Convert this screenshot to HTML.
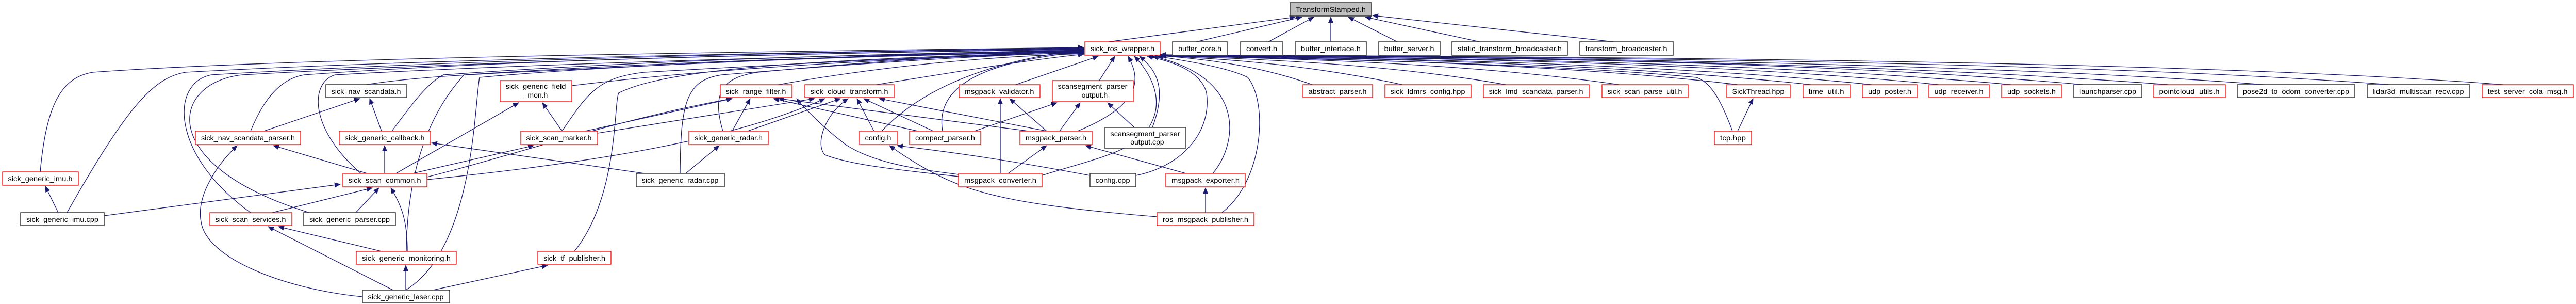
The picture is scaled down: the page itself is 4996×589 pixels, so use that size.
<!DOCTYPE html>
<html><head><meta charset="utf-8"><style>
html,body{margin:0;padding:0;background:#fff;}
svg{display:block;}
text{font-family:"Liberation Sans",sans-serif;font-size:14px;fill:#000;}
.r{fill:#fff;stroke:#ff0000;stroke-width:1.3;}
.b{fill:#fff;stroke:#404040;stroke-width:1.6;}
.g{fill:#bfbfbf;stroke:#404040;stroke-width:1.6;}
.e{fill:none;stroke:#191970;stroke-width:1.3;}
</style></head><body>
<svg width="4996" height="589" viewBox="0 0 4996 589" xmlns="http://www.w3.org/2000/svg">
<defs><marker id="a" markerWidth="12" markerHeight="10" refX="11" refY="5" orient="auto" markerUnits="userSpaceOnUse"><path d="M0,0 L12,5 L0,10 z" fill="#191970"/></marker></defs>
<g class="e" marker-end="url(#a)">
<path d="M2150,81 L2512,33"/>
<path d="M2320,81 L2525,33"/>
<path d="M2460,81 L2548,33"/>
<path d="M2581,81 L2581,33"/>
<path d="M2710,81 L2615,33"/>
<path d="M2870,81 L2648,33"/>
<path d="M3130,81 L2662,30"/>
<path d="M78,333 C90,200 120,150 180,140 C600,110 1500,100 2102,92"/>
<path d="M130,412 C250,200 300,150 360,140 C800,115 1600,100 2102,93"/>
<path d="M486,412 C330,300 330,160 410,145 C900,115 1600,100 2102,94"/>
<path d="M600,412 C300,320 330,160 470,145 C900,120 1600,102 2102,95"/>
<path d="M486,254 C520,170 560,150 590,145 C1000,115 1600,102 2102,96"/>
<path d="M710,164 C800,150 900,145 1000,140 C1500,115 1800,102 2102,97"/>
<path d="M760,254 C800,200 830,160 860,145 C1200,120 1700,103 2102,98"/>
<path d="M700,336 C600,250 600,160 650,145 C1000,125 1700,104 2102,99"/>
<path d="M788,487 C790,300 850,200 900,145 C1200,125 1700,105 2102,100"/>
<path d="M787,562 C920,480 920,200 930,150 C1200,125 1700,106 2102,101"/>
<path d="M1109,166 C1400,130 1800,110 2102,102"/>
<path d="M1090,254 C1140,180 1160,150 1250,140 C1600,120 1900,105 2102,103"/>
<path d="M1114,487 C1200,380 1190,200 1200,180 C1300,130 1600,115 2102,100"/>
<path d="M1319,336 C1320,200 1330,155 1400,145 C1700,120 1900,108 2102,101"/>
<path d="M1402,254 C1380,180 1400,150 1470,140 C1700,118 1900,105 2102,100"/>
<path d="M1510,164 C1700,130 1900,110 2102,104"/>
<path d="M1700,164 C1850,140 2000,115 2102,105"/>
<path d="M1710,254 C1780,180 1900,120 2102,96"/>
<path d="M1828,254 C1810,150 1950,115 2102,100"/>
<path d="M1970,164 L2130,109"/>
<path d="M2132,156 L2162,109"/>
<path d="M2090,254 C2220,200 2210,150 2188,109"/>
<path d="M2020,340 C2150,300 2220,290 2240,220 C2250,180 2230,140 2200,109"/>
<path d="M2235,247 C2260,180 2250,140 2210,109"/>
<path d="M2203,340 C2300,320 2350,250 2340,180 C2330,140 2280,120 2225,109"/>
<path d="M2352,336 C2400,280 2420,150 2235,109"/>
<path d="M2370,412 C2450,350 2460,200 2420,150 C2380,130 2300,118 2245,109"/>
<path d="M2545,164 C2450,130 2350,115 2250,108"/>
<path d="M2720,164 C2550,128 2400,115 2250,108"/>
<path d="M2920,164 C2700,125 2450,114 2250,108"/>
<path d="M3140,164 C2850,122 2500,113 2250,108"/>
<path d="M3360,254 C3340,200 3320,160 3290,150 C3000,122 2500,113 2250,108"/>
<path d="M3370,164 C3000,120 2500,112 2250,107"/>
<path d="M3512,164 C3100,120 2600,112 2250,107"/>
<path d="M3630,164 C3200,120 2600,111 2250,107"/>
<path d="M3760,164 C3300,118 2700,111 2250,107"/>
<path d="M3900,164 C3400,118 2700,110 2250,107"/>
<path d="M4040,164 C3500,116 2800,110 2250,106"/>
<path d="M4205,164 C3600,118 2800,110 2250,106"/>
<path d="M4390,164 C3800,118 2800,110 2250,106"/>
<path d="M4635,164 C4000,116 2900,110 2250,106"/>
<path d="M4855,164 C4200,114 3000,110 2250,106"/>
<path d="M512,254 L698,191"/>
<path d="M740,254 L717,191"/>
<path d="M712,336 L530,282"/>
<path d="M746,336 L746,282"/>
<path d="M768,336 L1006,199"/>
<path d="M800,336 L1035,282"/>
<path d="M828,343 C1000,300 1200,230 1420,191"/>
<path d="M828,348 C1100,320 1400,280 1600,191"/>
<path d="M113,412 L88,361"/>
<path d="M202,418 L660,357"/>
<path d="M528,412 L722,364"/>
<path d="M690,412 L735,364"/>
<path d="M790,487 C790,430 780,400 758,364"/>
<path d="M740,487 L540,439"/>
<path d="M762,562 L520,439"/>
<path d="M787,562 L787,514"/>
<path d="M840,562 L1062,514"/>
<path d="M703,575 C550,560 400,500 390,430 C380,380 420,320 460,282"/>
<path d="M1250,336 L837,277"/>
<path d="M1330,336 L1395,282"/>
<path d="M1090,254 L1052,199"/>
<path d="M1135,254 L1420,191"/>
<path d="M1159,258 L1580,191"/>
<path d="M1420,254 L1455,191"/>
<path d="M1450,254 L1630,191"/>
<path d="M1695,254 L1662,191"/>
<path d="M1810,254 L1675,191"/>
<path d="M1780,254 L1500,191"/>
<path d="M1890,254 L2050,199"/>
<path d="M1995,254 L1510,191"/>
<path d="M2030,254 L1705,191"/>
<path d="M2030,254 L1958,191"/>
<path d="M2055,254 L2095,199"/>
<path d="M2200,247 L2148,199"/>
<path d="M1940,336 L1940,191"/>
<path d="M1955,336 L2030,282"/>
<path d="M1859,338 C1800,330 1700,320 1640,280 C1600,250 1560,210 1545,191"/>
<path d="M1859,342 C1750,330 1650,320 1600,300 C1580,280 1600,220 1645,191"/>
<path d="M2114,340 C1900,300 1800,290 1740,282"/>
<path d="M2300,336 L2105,282"/>
<path d="M2338,412 L2338,364"/>
<path d="M2244,420 C2000,400 1900,380 1820,340 C1780,320 1750,300 1725,282"/>
<path d="M3370,254 L3400,191"/>
</g>
<g>
<rect class="g" x="2502" y="5" width="158" height="26"/><text x="2581" y="23" text-anchor="middle" textLength="136" lengthAdjust="spacingAndGlyphs">TransformStamped.h</text>
<rect class="r" x="2104" y="81" width="146" height="26"/><text x="2177" y="99" text-anchor="middle" textLength="124" lengthAdjust="spacingAndGlyphs">sick_ros_wrapper.h</text>
<rect class="b" x="2274" y="81" width="106" height="26"/><text x="2327" y="99" text-anchor="middle" textLength="84" lengthAdjust="spacingAndGlyphs">buffer_core.h</text>
<rect class="b" x="2406" y="81" width="82" height="26"/><text x="2447" y="99" text-anchor="middle" textLength="60" lengthAdjust="spacingAndGlyphs">convert.h</text>
<rect class="b" x="2512" y="81" width="138" height="26"/><text x="2581" y="99" text-anchor="middle" textLength="116" lengthAdjust="spacingAndGlyphs">buffer_interface.h</text>
<rect class="b" x="2674" y="81" width="119" height="26"/><text x="2733" y="99" text-anchor="middle" textLength="97" lengthAdjust="spacingAndGlyphs">buffer_server.h</text>
<rect class="b" x="2816" y="81" width="224" height="26"/><text x="2928" y="99" text-anchor="middle" textLength="202" lengthAdjust="spacingAndGlyphs">static_transform_broadcaster.h</text>
<rect class="b" x="3064" y="81" width="181" height="26"/><text x="3154" y="99" text-anchor="middle" textLength="159" lengthAdjust="spacingAndGlyphs">transform_broadcaster.h</text>

<rect class="b" x="632" y="164" width="157" height="25"/><text x="710" y="182" text-anchor="middle" textLength="135" lengthAdjust="spacingAndGlyphs">sick_nav_scandata.h</text>
<rect class="r" x="970" y="156" width="139" height="41"/><text x="1039" y="172" text-anchor="middle" textLength="117" lengthAdjust="spacingAndGlyphs">sick_generic_field</text><text x="1039" y="189" text-anchor="middle">_mon.h</text>
<rect class="r" x="1397" y="164" width="139" height="25"/><text x="1466" y="182" text-anchor="middle" textLength="117" lengthAdjust="spacingAndGlyphs">sick_range_filter.h</text>
<rect class="r" x="1561" y="164" width="173" height="25"/><text x="1647" y="182" text-anchor="middle" textLength="151" lengthAdjust="spacingAndGlyphs">sick_cloud_transform.h</text>
<rect class="r" x="1860" y="164" width="157" height="25"/><text x="1938" y="182" text-anchor="middle" textLength="135" lengthAdjust="spacingAndGlyphs">msgpack_validator.h</text>
<rect class="r" x="2041" y="156" width="157" height="41"/><text x="2119" y="172" text-anchor="middle" textLength="135" lengthAdjust="spacingAndGlyphs">scansegment_parser</text><text x="2119" y="189" text-anchor="middle">_output.h</text>
<rect class="r" x="2527" y="164" width="135" height="25"/><text x="2594" y="182" text-anchor="middle" textLength="113" lengthAdjust="spacingAndGlyphs">abstract_parser.h</text>
<rect class="r" x="2686" y="164" width="167" height="25"/><text x="2769" y="182" text-anchor="middle" textLength="145" lengthAdjust="spacingAndGlyphs">sick_ldmrs_config.hpp</text>
<rect class="r" x="2877" y="164" width="205" height="25"/><text x="2979" y="182" text-anchor="middle" textLength="183" lengthAdjust="spacingAndGlyphs">sick_lmd_scandata_parser.h</text>
<rect class="r" x="3107" y="164" width="167" height="25"/><text x="3190" y="182" text-anchor="middle" textLength="145" lengthAdjust="spacingAndGlyphs">sick_scan_parse_util.h</text>
<rect class="r" x="3349" y="164" width="123" height="25"/><text x="3410" y="182" text-anchor="middle" textLength="101" lengthAdjust="spacingAndGlyphs">SickThread.hpp</text>
<rect class="r" x="3497" y="164" width="91" height="25"/><text x="3542" y="182" text-anchor="middle" textLength="69" lengthAdjust="spacingAndGlyphs">time_util.h</text>
<rect class="r" x="3612" y="164" width="106" height="25"/><text x="3665" y="182" text-anchor="middle" textLength="84" lengthAdjust="spacingAndGlyphs">udp_poster.h</text>
<rect class="r" x="3741" y="164" width="117" height="25"/><text x="3799" y="182" text-anchor="middle" textLength="95" lengthAdjust="spacingAndGlyphs">udp_receiver.h</text>
<rect class="r" x="3882" y="164" width="116" height="25"/><text x="3940" y="182" text-anchor="middle" textLength="94" lengthAdjust="spacingAndGlyphs">udp_sockets.h</text>
<rect class="b" x="4022" y="164" width="132" height="25"/><text x="4088" y="182" text-anchor="middle" textLength="110" lengthAdjust="spacingAndGlyphs">launchparser.cpp</text>
<rect class="r" x="4177" y="164" width="139" height="25"/><text x="4246" y="182" text-anchor="middle" textLength="117" lengthAdjust="spacingAndGlyphs">pointcloud_utils.h</text>
<rect class="b" x="4339" y="164" width="228" height="25"/><text x="4453" y="182" text-anchor="middle" textLength="206" lengthAdjust="spacingAndGlyphs">pose2d_to_odom_converter.cpp</text>
<rect class="b" x="4591" y="164" width="199" height="25"/><text x="4690" y="182" text-anchor="middle" textLength="177" lengthAdjust="spacingAndGlyphs">lidar3d_multiscan_recv.cpp</text>
<rect class="r" x="4814" y="164" width="177" height="25"/><text x="4902" y="182" text-anchor="middle" textLength="155" lengthAdjust="spacingAndGlyphs">test_server_cola_msg.h</text>

<rect class="r" x="379" y="254" width="204" height="26"/><text x="481" y="272" text-anchor="middle" textLength="182" lengthAdjust="spacingAndGlyphs">sick_nav_scandata_parser.h</text>
<rect class="r" x="658" y="254" width="177" height="26"/><text x="746" y="272" text-anchor="middle" textLength="155" lengthAdjust="spacingAndGlyphs">sick_generic_callback.h</text>
<rect class="r" x="1010" y="254" width="149" height="26"/><text x="1084" y="272" text-anchor="middle" textLength="127" lengthAdjust="spacingAndGlyphs">sick_scan_marker.h</text>
<rect class="r" x="1336" y="254" width="154" height="26"/><text x="1413" y="272" text-anchor="middle" textLength="132" lengthAdjust="spacingAndGlyphs">sick_generic_radar.h</text>
<rect class="r" x="1667" y="254" width="73" height="26"/><text x="1703" y="272" text-anchor="middle" textLength="51" lengthAdjust="spacingAndGlyphs">config.h</text>
<rect class="r" x="1764" y="254" width="138" height="26"/><text x="1833" y="272" text-anchor="middle" textLength="116" lengthAdjust="spacingAndGlyphs">compact_parser.h</text>
<rect class="r" x="1978" y="254" width="140" height="26"/><text x="2048" y="272" text-anchor="middle" textLength="118" lengthAdjust="spacingAndGlyphs">msgpack_parser.h</text>
<rect class="b" x="2143" y="247" width="157" height="40"/><text x="2221" y="264" text-anchor="middle" textLength="135" lengthAdjust="spacingAndGlyphs">scansegment_parser</text><text x="2221" y="280" text-anchor="middle">_output.cpp</text>
<rect class="r" x="3325" y="254" width="72" height="26"/><text x="3361" y="272" text-anchor="middle" textLength="50" lengthAdjust="spacingAndGlyphs">tcp.hpp</text>

<rect class="r" x="5" y="333" width="147" height="26"/><text x="78" y="351" text-anchor="middle" textLength="125" lengthAdjust="spacingAndGlyphs">sick_generic_imu.h</text>
<rect class="r" x="665" y="336" width="163" height="26"/><text x="746" y="354" text-anchor="middle" textLength="141" lengthAdjust="spacingAndGlyphs">sick_scan_common.h</text>
<rect class="b" x="1234" y="336" width="171" height="26"/><text x="1319" y="354" text-anchor="middle" textLength="149" lengthAdjust="spacingAndGlyphs">sick_generic_radar.cpp</text>
<rect class="r" x="1859" y="336" width="162" height="26"/><text x="1940" y="354" text-anchor="middle" textLength="140" lengthAdjust="spacingAndGlyphs">msgpack_converter.h</text>
<rect class="b" x="2114" y="336" width="89" height="26"/><text x="2158" y="354" text-anchor="middle" textLength="67" lengthAdjust="spacingAndGlyphs">config.cpp</text>
<rect class="r" x="2261" y="336" width="154" height="26"/><text x="2338" y="354" text-anchor="middle" textLength="132" lengthAdjust="spacingAndGlyphs">msgpack_exporter.h</text>

<rect class="b" x="40" y="412" width="162" height="25"/><text x="121" y="430" text-anchor="middle" textLength="140" lengthAdjust="spacingAndGlyphs">sick_generic_imu.cpp</text>
<rect class="r" x="407" y="412" width="159" height="25"/><text x="486" y="430" text-anchor="middle" textLength="137" lengthAdjust="spacingAndGlyphs">sick_scan_services.h</text>
<rect class="b" x="589" y="412" width="178" height="25"/><text x="678" y="430" text-anchor="middle" textLength="156" lengthAdjust="spacingAndGlyphs">sick_generic_parser.cpp</text>
<rect class="r" x="2244" y="412" width="188" height="25"/><text x="2338" y="430" text-anchor="middle" textLength="166" lengthAdjust="spacingAndGlyphs">ros_msgpack_publisher.h</text>

<rect class="r" x="691" y="487" width="194" height="25"/><text x="788" y="505" text-anchor="middle" textLength="172" lengthAdjust="spacingAndGlyphs">sick_generic_monitoring.h</text>
<rect class="r" x="1043" y="487" width="142" height="25"/><text x="1114" y="505" text-anchor="middle" textLength="120" lengthAdjust="spacingAndGlyphs">sick_tf_publisher.h</text>

<rect class="b" x="703" y="562" width="169" height="25"/><text x="787" y="580" text-anchor="middle" textLength="147" lengthAdjust="spacingAndGlyphs">sick_generic_laser.cpp</text>
</g>
</svg>
</body></html>
